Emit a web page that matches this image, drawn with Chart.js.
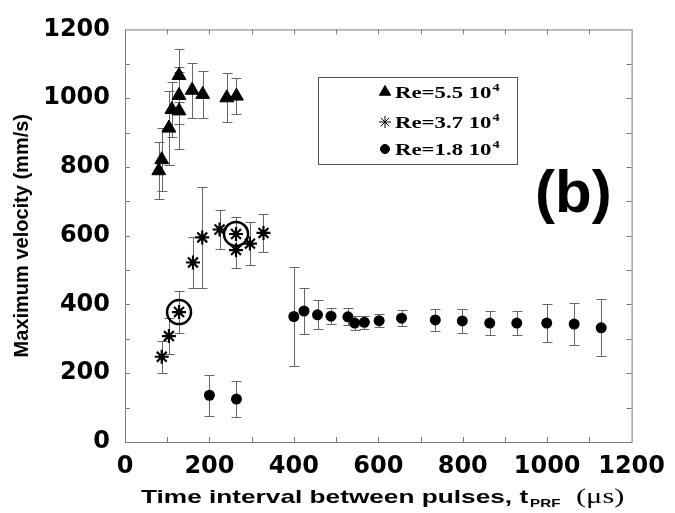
<!DOCTYPE html>
<html>
<head>
<meta charset="utf-8">
<script src="https://cdn.jsdelivr.net/npm/chart.js@4.4.0/dist/chart.umd.min.js"></script>
<style>
  html, body { margin: 0; padding: 0; background: #fff; }
</style>
</head>
<body>
<canvas id="chart" width="675" height="513"></canvas>
<script>
// Re = 5.5 10^4 (triangles)
const triX = [80, 87, 104, 111, 128, 128, 128, 159, 184, 241, 264];
const triY = [789, 821, 913, 967, 963, 1008, 1066, 1023, 1011, 1001, 1006];
const triErr = [83, 92, 107, 80, 112, 82, 78, 80, 68, 71, 53];

// Re = 3.7 10^4 (asterisks)
const starX = [87, 104, 128, 161, 183, 224, 263, 263, 296, 328];
const starY = [248, 308, 378, 522, 595, 618, 605, 558, 577, 608];
const starErr = [46, 53, 61, 73, 148, 56, 48, 51, 63, 54];

// circled asterisks
const ringX = [128, 263];
const ringY = [378, 605];

// Re = 1.8 10^4 (dots)
const dotX = [200, 264, 400, 424, 456, 488, 528, 544, 567, 602, 655, 735, 799, 864, 928, 999, 1064, 1128];
const dotY = [136, 125, 365, 381, 370, 366, 364, 346, 348, 353, 360, 355, 352, 346, 346, 346, 343, 332];
const dotErr = [60, 53, 143, 66, 42, 24, 25, 20, 18, 18, 23, 31, 34, 34, 36, 54, 60, 83];

const xTicks = [0, 200, 400, 600, 800, 1000, 1200];
const yTicks = [0, 200, 400, 600, 800, 1000, 1200];
const legendLabels = ['Re=5.5', 'Re=3.7', 'Re=1.8'];

function points(xs, ys) {
    return xs.map((x, i) => ({ x: x, y: ys[i] }));
}

// draw text stretched horizontally, returns drawn width
function wideText(ctx, text, x, y, sx) {
    ctx.save();
    ctx.translate(x, y);
    ctx.scale(sx, 1);
    ctx.fillText(text, 0, 0);
    ctx.restore();
    return ctx.measureText(text).width * sx;
}

// frame with inward ticks every 100
const frame = {
    id: 'frame',
    beforeDatasetsDraw(chart) {
        const { ctx, chartArea: a, scales: { x, y } } = chart;
        ctx.save();
        ctx.strokeStyle = '#7a7a7a';
        ctx.lineWidth = 1;
        ctx.strokeRect(a.left + 0.5, a.top + 0.5, a.right - a.left, a.bottom - a.top);
        ctx.beginPath();
        for (let v = 100; v < 1200; v += 100) {
            const px = Math.round(x.getPixelForValue(v)) + 0.5;
            ctx.moveTo(px, a.bottom); ctx.lineTo(px, a.bottom - 5);
            ctx.moveTo(px, a.top); ctx.lineTo(px, a.top + 5);
            const py = Math.round(y.getPixelForValue(v)) + 0.5;
            ctx.moveTo(a.left, py); ctx.lineTo(a.left + 5, py);
            ctx.moveTo(a.right, py); ctx.lineTo(a.right - 5, py);
        }
        ctx.stroke();
        ctx.restore();
    }
};

// vertical error bars with caps
const errorBars = {
    id: 'errorBars',
    beforeDatasetsDraw(chart) {
        const { ctx, scales: { x, y } } = chart;
        ctx.save();
        ctx.strokeStyle = '#666';
        ctx.lineWidth = 1;
        chart.data.datasets.forEach(ds => {
            if (!ds.errors) return;
            ds.data.forEach((p, i) => {
                const px = Math.round(x.getPixelForValue(p.x)) + 0.5;
                const top = Math.round(y.getPixelForValue(p.y + ds.errors[i])) + 0.5;
                const bot = Math.round(y.getPixelForValue(p.y - ds.errors[i])) + 0.5;
                ctx.beginPath();
                ctx.moveTo(px, top); ctx.lineTo(px, bot);
                ctx.moveTo(px - 5, top); ctx.lineTo(px + 5, top);
                ctx.moveTo(px - 5, bot); ctx.lineTo(px + 5, bot);
                ctx.stroke();
            });
        });
        ctx.restore();
    }
};

// legend box, (b) label and x axis title
const extras = {
    id: 'extras',
    afterDraw(chart) {
        const ctx = chart.ctx;
        ctx.save();
        ctx.strokeStyle = '#555';
        ctx.lineWidth = 1;
        ctx.strokeRect(318.5, 77.5, 199, 87);

        const styles = [
            { pointStyle: 'triangle', radius: 6.5, borderWidth: 1, rotation: 0 },
            { pointStyle: 'star', radius: 6, borderWidth: 2, rotation: 0 },
            { pointStyle: 'circle', radius: 4.5, borderWidth: 1, rotation: 0 }
        ];
        const rows = [92, 122, 149];
        ctx.fillStyle = '#000';
        ctx.strokeStyle = '#000';
        ctx.textBaseline = 'alphabetic';
        rows.forEach((ry, i) => {
            Chart.helpers.drawPoint(ctx, styles[i], 385, ry);
            ctx.font = 'bold 17px "Liberation Serif"';
            let w = wideText(ctx, legendLabels[i], 395, ry + 6, 1.34);
            w += wideText(ctx, ' 10', 395 + w, ry + 6, 1.34);
            ctx.font = 'bold 11px "Liberation Serif"';
            wideText(ctx, '4', 396 + w, ry - 1, 1.3);
        });

        ctx.font = 'bold 60px "Liberation Sans"';
        ctx.fillText('(b)', 535, 212);

        // x axis title
        ctx.font = 'bold 19px "Liberation Sans"';
        let tx = 141;
        tx += wideText(ctx, 'Time interval between pulses, t', tx, 503, 1.38);
        ctx.font = 'bold 11px "Liberation Sans"';
        wideText(ctx, 'PRF', tx + 2, 507, 1.38);
        ctx.font = '22px "Liberation Serif"';
        wideText(ctx, '(\u03bcs)', 576, 503, 1.38);
        ctx.restore();
    }
};

const tickFont = { family: 'DejaVu Sans', weight: 'bold', size: 24 };

new Chart(document.getElementById('chart'), {
    type: 'scatter',
    data: {
        datasets: [{
            data: points(triX, triY),
            errors: triErr,
            pointStyle: 'triangle',
            pointRadius: 8,
            backgroundColor: '#000',
            borderColor: '#000',
            borderWidth: 1
        }, {
            data: points(starX, starY),
            errors: starErr,
            pointStyle: 'star',
            pointRadius: 7,
            backgroundColor: '#000',
            borderColor: '#000',
            borderWidth: 2.2
        }, {
            data: points(ringX, ringY),
            pointStyle: 'circle',
            pointRadius: 12,
            backgroundColor: 'rgba(0,0,0,0)',
            borderColor: '#000',
            borderWidth: 2.5
        }, {
            data: points(dotX, dotY),
            errors: dotErr,
            pointStyle: 'circle',
            pointRadius: 5.5,
            backgroundColor: '#000',
            borderColor: '#000',
            borderWidth: 0
        }]
    },
    options: {
        responsive: false,
        animation: false,
        layout: { padding: { top: 16, right: 40, left: 0, bottom: 0 } },
        plugins: {
            legend: { display: false },
            tooltip: { enabled: false }
        },
        scales: {
            x: {
                type: 'linear',
                min: 0,
                max: 1200,
                afterBuildTicks: s => { s.ticks = xTicks.map(v => ({ value: v })); },
                afterFit: s => { s.height = 71; },
                ticks: { font: tickFont, color: '#000', padding: 10, maxRotation: 0, autoSkip: false, callback: v => String(v) },
                grid: { display: false, drawTicks: false },
                border: { display: false }
            },
            y: {
                type: 'linear',
                min: 0,
                max: 1200,
                afterBuildTicks: s => { s.ticks = yTicks.map(v => ({ value: v })); },
                afterFit: s => { s.width = 125; },
                ticks: { font: tickFont, color: '#000', padding: 15, autoSkip: false, callback: v => String(v) },
                grid: { display: false, drawTicks: false },
                border: { display: false },
                title: {
                    display: true,
                    text: 'Maximum velocity (mm/s)',
                    font: { family: 'Liberation Sans', weight: 'bold', size: 20 },
                    color: '#000',
                    padding: { top: 10, bottom: 0 }
                }
            }
        }
    },
    plugins: [frame, errorBars, extras]
});
</script>
</body>
</html>
